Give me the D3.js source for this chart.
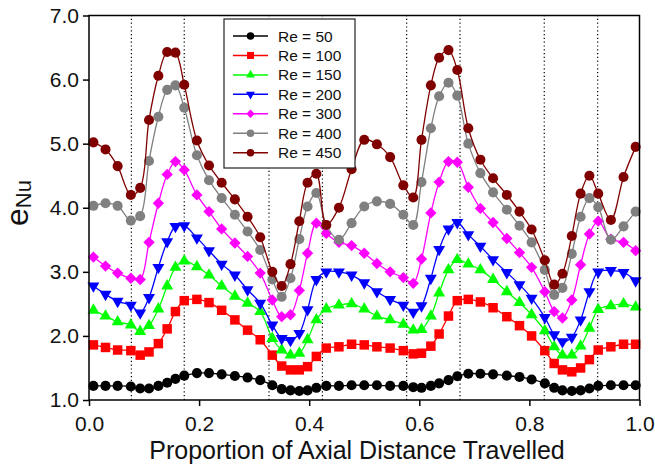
<!DOCTYPE html>
<html><head><meta charset="utf-8">
<script src="https://cdn.jsdelivr.net/npm/d3@7"></script>
<style>body{margin:0;background:#fff;} svg{display:block;font-family:"Liberation Sans",Arial,sans-serif;}</style>
</head><body><svg id="c" width="655" height="467"></svg>
<script>
const xPos = [0.008,0.030,0.052,0.076,0.093,0.109,0.126,0.142,0.157,0.173,
0.196,0.218,0.241,0.265,0.288,0.311,0.333,0.350,0.366,0.382,
0.397,0.413,0.431,0.454,0.477,0.500,0.523,0.547,0.571,0.589,
0.604,0.621,0.636,0.653,0.669,0.689,0.711,0.734,0.759,0.782,
0.804,0.828,0.845,0.860,0.877,0.893,0.909,0.925,0.948,0.971,0.993];
const re50 = [1.22,1.22,1.22,1.21,1.18,1.18,1.22,1.27,1.33,1.38,1.42,1.42,1.40,1.375,1.35,1.31,1.23,1.17,1.15,1.14,1.15,1.19,1.22,1.22,1.23,1.23,1.23,1.22,1.22,1.20,1.19,1.22,1.26,1.31,1.37,1.41,1.41,1.40,1.38,1.36,1.32,1.26,1.19,1.15,1.14,1.15,1.18,1.22,1.23,1.23,1.23];
const re100 = [1.86,1.82,1.78,1.77,1.70,1.75,1.88,2.11,2.38,2.55,2.57,2.52,2.40,2.25,2.09,1.94,1.70,1.53,1.47,1.47,1.52,1.68,1.81,1.83,1.87,1.86,1.83,1.81,1.77,1.72,1.73,1.84,2.03,2.31,2.55,2.57,2.53,2.44,2.30,2.16,2.00,1.77,1.57,1.47,1.44,1.50,1.63,1.78,1.83,1.87,1.87];
const re150 = [2.40,2.31,2.22,2.17,2.07,2.16,2.42,2.78,3.07,3.17,3.08,2.95,2.78,2.62,2.51,2.38,1.96,1.78,1.70,1.73,1.94,2.25,2.42,2.48,2.50,2.42,2.31,2.25,2.18,2.09,2.10,2.31,2.67,3.03,3.19,3.12,3.03,2.88,2.69,2.52,2.33,2.08,1.83,1.70,1.70,1.84,2.12,2.41,2.47,2.50,2.45];
const re200 = [2.78,2.65,2.54,2.48,2.36,2.60,3.07,3.47,3.71,3.72,3.53,3.33,3.12,2.95,2.72,2.51,2.17,1.96,1.93,2.04,2.41,2.88,3.00,3.00,2.95,2.83,2.69,2.57,2.48,2.37,2.47,2.90,3.35,3.67,3.77,3.58,3.40,3.19,2.99,2.80,2.59,2.29,2.02,1.91,1.98,2.25,2.69,3.00,3.02,2.99,2.86];
const re300 = [3.23,3.09,2.98,2.90,2.88,3.46,4.07,4.52,4.72,4.59,4.20,3.94,3.67,3.45,3.24,2.98,2.56,2.30,2.33,2.71,3.29,3.76,3.60,3.46,3.41,3.29,3.13,3.00,2.91,2.82,3.20,3.92,4.40,4.72,4.71,4.32,3.99,3.77,3.52,3.30,3.07,2.69,2.38,2.28,2.56,3.11,3.59,3.79,3.51,3.46,3.33];
const re400 = [4.03,4.07,4.03,3.80,3.87,4.73,5.42,5.84,5.91,5.56,4.82,4.43,4.15,3.89,3.63,3.34,2.88,2.61,2.90,3.51,4.02,4.23,3.73,3.50,3.76,4.02,4.10,4.06,3.89,3.73,4.40,5.24,5.74,5.95,5.75,5.00,4.54,4.24,3.97,3.72,3.46,3.03,2.64,2.75,3.28,3.86,4.15,4.01,3.50,3.71,3.94];
const re450 = [5.02,4.91,4.65,4.20,4.31,5.37,6.06,6.43,6.42,5.92,5.05,4.66,4.39,4.13,3.86,3.54,3.00,2.78,3.12,3.79,4.39,4.53,3.73,4.00,4.60,5.06,4.99,4.79,4.35,4.16,5.06,5.91,6.34,6.46,6.15,5.24,4.75,4.46,4.20,3.94,3.66,3.18,2.80,2.97,3.56,4.22,4.50,4.22,3.81,4.48,4.95];
const seriesLabels = ["Re = 50","Re = 100","Re = 150","Re = 200","Re = 300","Re = 400","Re = 450"];
const seriesColors = ["#000000","#ff0000","#00ff00","#0000ff","#ff00ff","#808080","#800000"];
const seriesShapes = ["circle","square","triangle","triangleDown","diamond","circle","circle"];
const xTicks = [0,0.2,0.4,0.6,0.8,1.0];
const yTicks = [1,2,3,4,5,6,7];
const dividers = [0.077,0.173,0.327,0.424,0.577,0.674,0.827,0.924];
const xLabel = "Proportion of Axial Distance Travelled";

const allValues = [re50,re100,re150,re200,re300,re400,re450];
const svg = d3.select("#c");
const x = d3.scaleLinear().domain([0,1]).range([89,639.5]);
const y = d3.scaleLinear().domain([1,7]).range([400,15.5]);

function shapeInfo(shape, big){
  const k = big ? 1 : 0.55;
  switch(shape){
    case "square": return {type:d3.symbolSquare,size:90*k,rot:0};
    case "triangle": return {type:d3.symbolTriangle,size:62*k,rot:0};
    case "triangleDown": return {type:d3.symbolTriangle,size:62*k,rot:180};
    case "diamond": return {type:d3.symbolSquare,size:64*k,rot:45};
    default: return {type:d3.symbolCircle,size:80*k,rot:0};
  }
}

// dotted dividers
svg.append("g").selectAll("line").data(dividers).join("line")
  .attr("x1",d=>x(d)).attr("x2",d=>x(d))
  .attr("y1",y(1)).attr("y2",y(7))
  .attr("stroke","#000").attr("stroke-width",1.2)
  .attr("stroke-dasharray","1.2,2.6");

// series
const line = d3.line().x((d,i)=>x(xPos[i])).y(d=>y(d)).curve(d3.curveCatmullRom.alpha(0.5));
allValues.forEach((vals,si)=>{
  const g = svg.append("g");
  g.append("path").attr("d",line(vals)).attr("fill","none")
    .attr("stroke",seriesColors[si]).attr("stroke-width",1.3);
  const info = shapeInfo(seriesShapes[si], true);
  const p = d3.symbol().type(info.type).size(info.size)();
  g.selectAll("path.m").data(vals).join("path").attr("class","m")
    .attr("d",p)
    .attr("transform",(d,i)=>`translate(${x(xPos[i])},${y(d)}) rotate(${info.rot})`)
    .attr("fill",seriesColors[si]);
});

// axes
const xAxis = svg.append("g").attr("transform",`translate(0,${y(1)})`)
  .call(d3.axisBottom(x).tickValues(xTicks).tickFormat(d3.format(".1f")).tickSize(6).tickSizeOuter(0).tickPadding(5));
const yAxis = svg.append("g").attr("transform",`translate(${x(0)},0)`)
  .call(d3.axisLeft(y).tickValues(yTicks).tickFormat(d3.format(".1f")).tickSize(6).tickSizeOuter(0).tickPadding(4));
[xAxis,yAxis].forEach(a=>{
  a.select(".domain").remove();
  a.selectAll(".tick line").attr("stroke","#000").attr("stroke-width",1.5);
  a.selectAll(".tick text").attr("font-size",21).attr("fill","#111").attr("font-family","'Liberation Sans',Arial,sans-serif");
});
xAxis.selectAll(".tick text").attr("dy","0.95em");

svg.append("rect").attr("x",x(0)).attr("y",y(7)).attr("width",x(1)-x(0)).attr("height",y(1)-y(7))
  .attr("fill","none").attr("stroke","#000").attr("stroke-width",1.5);

// axis titles
svg.append("text").attr("x",357).attr("y",459).attr("text-anchor","middle")
  .attr("font-size",25).attr("fill","#111").text(xLabel);
const yl = svg.append("text").attr("transform",`translate(28,203) rotate(-90)`).attr("text-anchor","middle").attr("fill","#111");
yl.append("tspan").attr("font-size",32).text("e");
yl.append("tspan").attr("font-size",22).attr("dy",3).text("Nu");

// legend
const lg = svg.append("g");
lg.append("rect").attr("x",224).attr("y",19).attr("width",131).attr("height",149)
  .attr("fill","#fff").attr("stroke","#222").attr("stroke-width",1.2);
seriesLabels.forEach((lab,i)=>{
  const yy = 36 + i*19.45;
  lg.append("line").attr("x1",233).attr("x2",268).attr("y1",yy).attr("y2",yy)
    .attr("stroke",seriesColors[i]).attr("stroke-width",1.5);
  const info = shapeInfo(seriesShapes[i], false);
  lg.append("path").attr("d",d3.symbol().type(info.type).size(info.size)())
    .attr("transform",`translate(250.5,${yy}) rotate(${info.rot})`).attr("fill",seriesColors[i]);
  lg.append("text").attr("x",278).attr("y",yy).attr("dy","0.36em").attr("font-size",15.5).attr("fill","#111").text(lab);
});
</script></body></html>
